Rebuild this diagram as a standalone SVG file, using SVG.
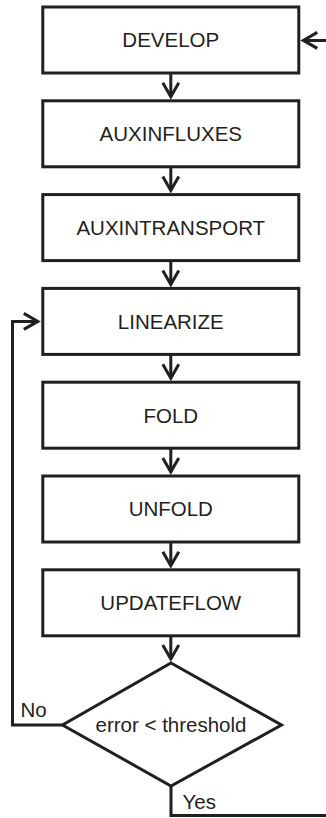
<svg xmlns="http://www.w3.org/2000/svg" width="326" height="818" viewBox="0 0 326 818">
<style>
  .box{fill:#fff;stroke:#231f20;stroke-width:3;stroke-linejoin:miter}
  .lbl{font-family:"Liberation Sans",Arial,Helvetica,sans-serif;font-size:20.5px;fill:#231f20;text-anchor:middle}
  .side{font-family:"Liberation Sans",Arial,Helvetica,sans-serif;font-size:20.5px;fill:#231f20}
  .edge{fill:none;stroke:#231f20;stroke-width:3;stroke-linejoin:miter}
</style>
<defs>
  <marker id="arr" markerUnits="userSpaceOnUse" markerWidth="30" markerHeight="30" refX="0" refY="0" orient="auto" overflow="visible">
    <path d="M-14,-8 L0,0 L-14,8" fill="none" stroke="#231f20" stroke-width="3" stroke-linejoin="miter"/>
  </marker>
</defs>
<rect width="326" height="818" fill="#fff"/>
<g id="connectors">
  <path class="edge" d="M170.8,73 V96.8" marker-end="url(#arr)"/>
  <path class="edge" d="M170.8,166.8 V190.6" marker-end="url(#arr)"/>
  <path class="edge" d="M170.8,260.6 V284.4" marker-end="url(#arr)"/>
  <path class="edge" d="M170.8,354.4 V378.2" marker-end="url(#arr)"/>
  <path class="edge" d="M170.8,448.2 V472" marker-end="url(#arr)"/>
  <path class="edge" d="M170.8,542 V565.8" marker-end="url(#arr)"/>
  <path class="edge" d="M170.8,635.8 V659" marker-end="url(#arr)"/>
  <path class="edge" d="M63,725 H12.5 V321.4 H37.8" marker-end="url(#arr)"/>
  <path class="edge" d="M171,786 V815.5 H340 V40.4 H303.3" marker-end="url(#arr)"/>
</g>
<g id="develop"><rect class="box" x="42.8" y="7" width="256" height="66"/><text class="lbl" x="170.8" y="47.4">DEVELOP</text></g>
<g id="auxinfluxes"><rect class="box" x="42.8" y="100.8" width="256" height="66"/><text class="lbl" x="170.8" y="141.2">AUXINFLUXES</text></g>
<g id="auxintransport"><rect class="box" x="42.8" y="194.6" width="256" height="66"/><text class="lbl" x="170.8" y="235">AUXINTRANSPORT</text></g>
<g id="linearize"><rect class="box" x="42.8" y="288.4" width="256" height="66"/><text class="lbl" x="170.8" y="328.8">LINEARIZE</text></g>
<g id="fold"><rect class="box" x="42.8" y="382.2" width="256" height="66"/><text class="lbl" x="170.8" y="422.6">FOLD</text></g>
<g id="unfold"><rect class="box" x="42.8" y="476" width="256" height="66"/><text class="lbl" x="170.8" y="516.4">UNFOLD</text></g>
<g id="updateflow"><rect class="box" x="42.8" y="569.8" width="256" height="66"/><text class="lbl" x="170.8" y="610.2">UPDATEFLOW</text></g>
<g id="decision"><path class="box" d="M171,663 L281.5,725 L171,786 L62.5,725 Z"/><text class="lbl" x="171" y="731.5">error &lt; threshold</text></g>
<g id="labels">
  <text class="side" x="20.5" y="716.7">No</text>
  <text class="side" x="182.5" y="809.3">Yes</text>
</g>
</svg>
